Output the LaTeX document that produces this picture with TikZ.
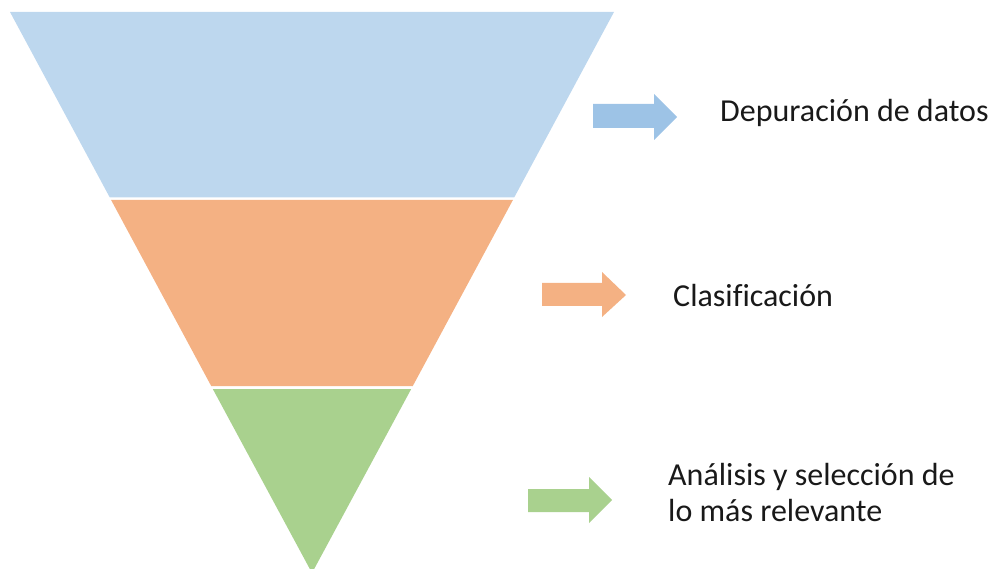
\documentclass[tikz,border=0pt]{standalone}
\usepackage{fontspec}
\setmainfont[Ligatures=NoCommon]{Carlito}
\definecolor{bandblue}{HTML}{BDD7EE}
\definecolor{arrblue}{HTML}{9DC3E6}
\definecolor{bandorange}{HTML}{F4B183}
\definecolor{bandgreen}{HTML}{A9D18E}
\begin{document}
\begin{tikzpicture}[x=1pt,y=-1pt,
  lbl/.style={anchor=base west,inner sep=0pt,font=\fontsize{32}{36}\selectfont,text=black!90}]
\useasboundingbox (0,0) rectangle (993,569);
% funnel bands
\fill[bandblue] (10,12) -- (614,12) -- (514.2,197.5) -- (109.8,197.5) -- cycle;
\fill[bandorange] (111.1,200) -- (512.9,200) -- (412.8,386) -- (211.2,386) -- cycle;
\fill[bandgreen] (212.8,389) -- (411.2,389) -- (312,573) -- cycle;
% arrows
\fill[arrblue] (593,104) -- (654,104) -- (654,94) -- (677,117) -- (654,140) -- (654,128) -- (593,128) -- cycle;
\fill[bandorange] (542,283) -- (602,283) -- (602,272) -- (626,295) -- (602,317) -- (602,306) -- (542,306) -- cycle;
\fill[bandgreen] (528,489) -- (589,489) -- (589,477) -- (612,500) -- (589,523) -- (589,512) -- (528,512) -- cycle;
% labels
\node[lbl] (t1) at (720,122) {Depuración de datos};
\node[lbl] (t2) at (673,307) {Clasificación};
\node[lbl] (t3a) at (668,485) {Análisis y selección de};
\node[lbl] (t3b) at (668,521) {lo más relevante};
\end{tikzpicture}
\end{document}
